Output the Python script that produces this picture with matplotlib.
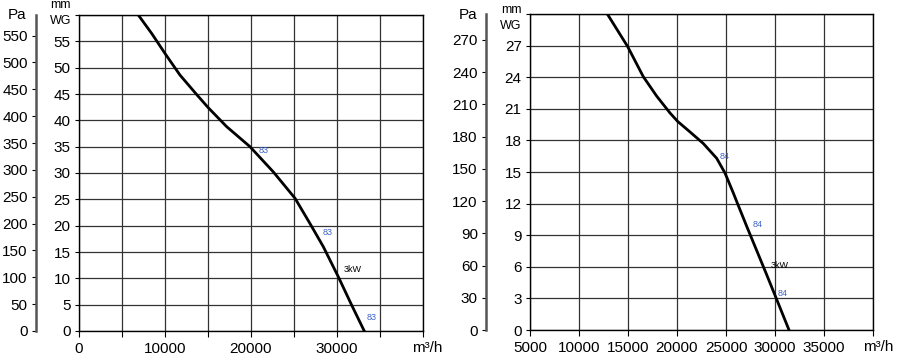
import matplotlib
matplotlib.use("Agg")
import matplotlib.pyplot as plt

plt.rcParams['font.family'] = ['Liberation Sans', 'DejaVu Sans']

PA_PER_MM = 9.80665
BLUE = "#3f63c8"

# left fan curve (flow m3/h, pressure mm WG)
left_flow = [6895, 8450, 10000, 11740, 13680, 15030, 17170, 19880, 22600, 25120,
             26860, 28410, 30150, 31710, 33170]
left_mm = [60, 56.5, 52.7, 48.6, 44.9, 42.4, 38.8, 35.0, 30.2, 25.2,
           20.4, 16.0, 10.3, 4.9, 0]
left_labels = [("83", 21430, 34.2, BLUE), ("83", 28870, 18.7, BLUE),
               ("3kW", 31820, 11.7, "black"), ("83", 34030, 2.6, BLUE)]

# right fan curve
right_flow = [12890, 14970, 16560, 17930, 19290, 20070, 21330, 22690, 24050, 24900,
              25750, 26090, 27110, 28130, 29150, 30000, 31430]
right_mm = [30, 26.9, 24.05, 22.2, 20.6, 19.8, 18.8, 17.7, 16.3, 14.9,
            13.0, 12.2, 9.85, 7.55, 5.25, 3.3, 0]
right_labels = [("84", 24900, 16.5, BLUE), ("84", 28200, 10.0, BLUE),
                ("3kW", 30440, 6.1, "black"), ("84", 30780, 3.5, BLUE)]

fig = plt.figure(figsize=(9, 3.55), dpi=100)
FS = 11


def draw(rect, flow, mm, labels, xlim, xticks, xlabels, ylim, yticks, pa_ticks, pa_loc,
         mm_pos, wg_pos, pa_pos, unit_pos):
    ax = fig.add_axes(rect)
    ax.set_xlim(*xlim)
    ax.set_ylim(*ylim)
    ax.set_xticks(xticks)
    ax.set_xticklabels(xlabels, fontsize=FS)
    ax.set_yticks(list(yticks) + [ylim[1]])
    ax.set_yticklabels([str(v) for v in yticks] + [""], fontsize=FS)
    ax.tick_params(axis='x', length=4, width=0.8, pad=4)
    ax.tick_params(axis='y', length=3, width=0.8, pad=3)
    ax.grid(True, color='#333333', linewidth=0.9)
    for s in ax.spines.values():
        s.set_linewidth(1.0)
    ax.plot(flow, mm, color='black', linewidth=2, solid_joinstyle='round')
    for txt, fx, fy, c in labels:
        ax.text(fx, fy, txt, fontsize=6.5, color=c, ha='center', va='center')

    sec = ax.secondary_yaxis(pa_loc, functions=(lambda v: v * PA_PER_MM, lambda v: v / PA_PER_MM))
    sec.set_yticks(pa_ticks)
    sec.set_yticklabels([str(v) for v in pa_ticks], fontsize=FS)
    sec.tick_params(length=3, width=0.8, pad=3, colors='black')
    sec.spines['left'].set_color('#555555')
    sec.spines['left'].set_linewidth(1.8)

    fig.text(pa_pos[0], pa_pos[1], "Pa", fontsize=FS, ha='center', va='center')
    fig.text(mm_pos[0], mm_pos[1], "mm", fontsize=9, ha='center', va='center')
    fig.text(wg_pos[0], wg_pos[1], "WG", fontsize=9, ha='center', va='center')
    fig.text(unit_pos[0], unit_pos[1], "m³/h", fontsize=FS, ha='center', va='center')
    return ax


W, H = 900, 355
left_xt = list(range(0, 40001, 5000))
left_xl = ["0", "", "10000", "", "20000", "", "30000", "", ""]
draw([79 / W, 1 - 331 / H, (423 - 79) / W, (331 - 15) / H],
     left_flow, left_mm, left_labels,
     (0, 40000), left_xt, left_xl,
     (0, 60), list(range(0, 56, 5)), list(range(0, 551, 50)), -0.125,
     (60 / W, 1 - 5 / H), (61 / W, 1 - 21 / H), (17 / W, 1 - 15 / H), (427 / W, 1 - 348 / H))

right_xt = list(range(5000, 40001, 5000))
right_xl = [str(v) for v in right_xt[:-1]] + [""]
draw([530 / W, 1 - 330 / H, (873 - 530) / W, (330 - 14) / H],
     right_flow, right_mm, right_labels,
     (5000, 40000), right_xt, right_xl,
     (0, 30), list(range(0, 28, 3)), list(range(0, 271, 30)), -0.128,
     (511 / W, 1 - 10 / H), (511 / W, 1 - 26 / H), (468 / W, 1 - 15 / H), (878 / W, 1 - 347 / H))

fig.savefig("out.png", dpi=100)
